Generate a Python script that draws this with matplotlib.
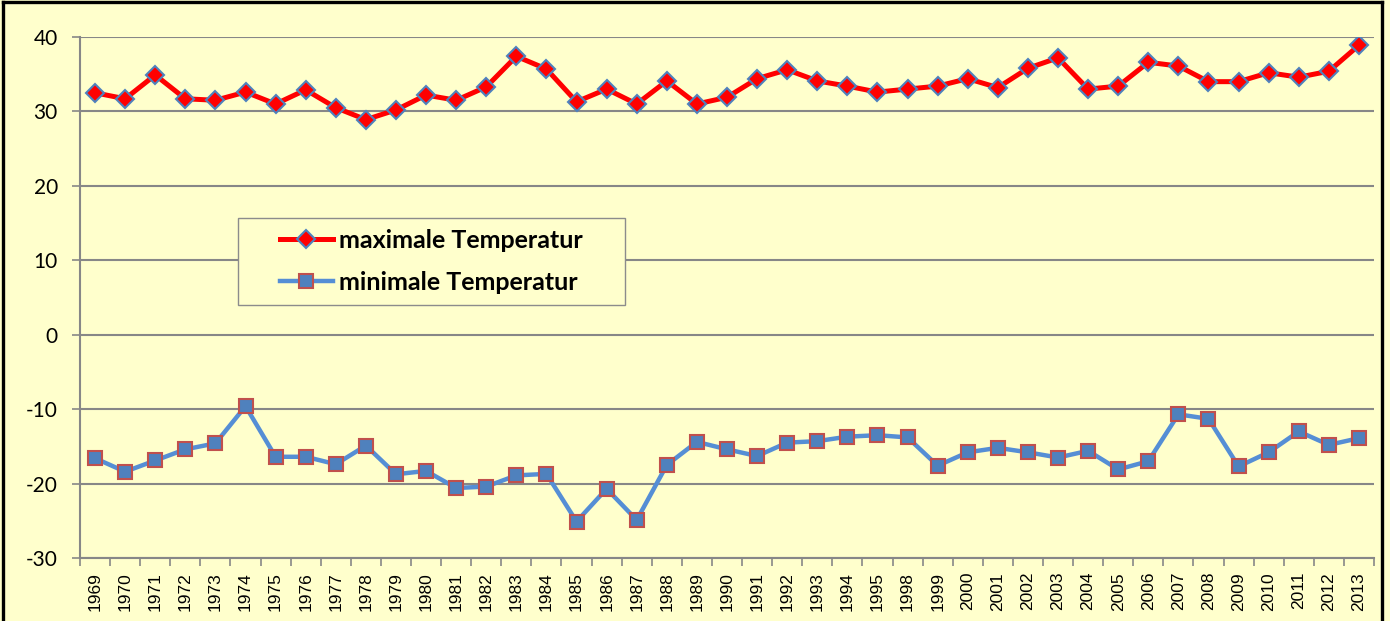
import matplotlib
matplotlib.use("Agg")
import matplotlib.pyplot as plt
import numpy as np
from matplotlib.patches import Rectangle
from matplotlib.lines import Line2D

years = ["1969", "1970", "1971", "1972", "1973", "1974", "1975", "1976", "1977", "1978",
         "1979", "1980", "1981", "1982", "1983", "1984", "1985", "1986", "1987", "1988",
         "1989", "1990", "1991", "1992", "1993", "1994", "1995", "1998", "1999", "2000",
         "2001", "2002", "2003", "2004", "2005", "2006", "2007", "2008", "2009", "2010",
         "2011", "2012", "2013"]

t_max = [32.5, 31.7, 34.9, 31.7, 31.5, 32.6, 31.0, 32.9, 30.5, 28.9,
         30.2, 32.2, 31.5, 33.3, 37.4, 35.7, 31.3, 33.0, 31.0, 34.1,
         31.0, 31.9, 34.4, 35.6, 34.1, 33.4, 32.6, 33.0, 33.4, 34.4,
         33.2, 35.8, 37.2, 33.0, 33.4, 36.6, 36.1, 34.0, 34.0, 35.2,
         34.6, 35.4, 38.9]

t_min = [-16.6, -18.4, -16.9, -15.4, -14.6, -9.6, -16.4, -16.4, -17.4, -14.9,
         -18.75, -18.3, -20.6, -20.4, -18.9, -18.7, -25.1, -20.7, -24.9, -17.5,
         -14.4, -15.4, -16.3, -14.5, -14.3, -13.7, -13.5, -13.8, -17.6, -15.8,
         -15.2, -15.8, -16.5, -15.6, -18.1, -17.0, -10.7, -11.3, -17.7, -15.8,
         -13.0, -14.8, -13.9]

labels = ["maximale Temperatur", "minimale Temperatur"]
y_ticks = [-30, -20, -10, 0, 10, 20, 30, 40]

bg = "#FFFFCC"
grid_c = "#878787"

fig = plt.figure(figsize=(13.9, 6.21), dpi=100)
fig.patch.set_facecolor(bg)
ax = fig.add_axes([80/1390, 1-558/621, 1294/1390, 521/621])
ax.set_facecolor(bg)

x = np.arange(len(years))
ax.plot(x, t_max, color="#FF0000", lw=3.6, marker="D", ms=9,
        mfc="#FF0000", mec="#4F81BD", mew=1.5, label=labels[0], zorder=4)
ax.plot(x, t_min, color="#558ED5", lw=3.2, marker="s", ms=10,
        mfc="#4F81BD", mec="#C0504D", mew=1.5, label=labels[1], zorder=3)

ax.set_xlim(-0.5, len(years) - 0.5)
ax.set_ylim(-30, 40)
ax.set_yticks(y_ticks)
ax.set_yticklabels([str(v) for v in y_ticks], fontfamily="Lato", fontsize=15)
ax.yaxis.grid(True, color=grid_c, lw=1.5)
ax.set_axisbelow(True)

ax.set_xticks(x)
ax.set_xticklabels(years, rotation=90, fontfamily="Liberation Sans", fontsize=12.5)
ax.set_xticks(np.arange(len(years) + 1) - 0.5, minor=True)
ax.tick_params(axis="x", which="major", length=0, pad=10)
ax.tick_params(axis="x", which="minor", length=6, width=1.2, color=grid_c, direction="out")
ax.tick_params(axis="y", length=6, width=1.2, color=grid_c, pad=10)

for s in ["top", "right"]:
    ax.spines[s].set_visible(False)
for s in ["left", "bottom"]:
    ax.spines[s].set_color(grid_c)
    ax.spines[s].set_linewidth(1.5)

# legend (frame drawn separately)
leg = ax.legend(loc="center left", bbox_to_anchor=((280-80)/1294, 1-(261.5-37)/521),
                frameon=False,
                prop={"family": "Lato", "weight": "bold", "size": 18},
                handlelength=2.1, handletextpad=0.25, labelspacing=0.75,
                borderpad=0, borderaxespad=0)
ax.add_patch(Rectangle(((238-80)/1294, 1-(305-37)/521), (625-238)/1294, (305-218)/521,
                       transform=ax.transAxes, facecolor=bg, edgecolor="#8C8C8C",
                       lw=1.0, zorder=5))
leg.set_zorder(6)

# figure border (top, left, right)
fx = lambda px: px/1390
fy = lambda py: 1 - py/621
for xs, ys in [((fx(3), fx(1382)), (fy(2), fy(2))),
               ((fx(3), fx(3)), (fy(2), 0)),
               ((fx(1382), fx(1382)), (fy(2), 0))]:
    fig.add_artist(Line2D(xs, ys, transform=fig.transFigure, color="black", lw=2.4))

fig.savefig("out.png", dpi=100, facecolor=bg)
